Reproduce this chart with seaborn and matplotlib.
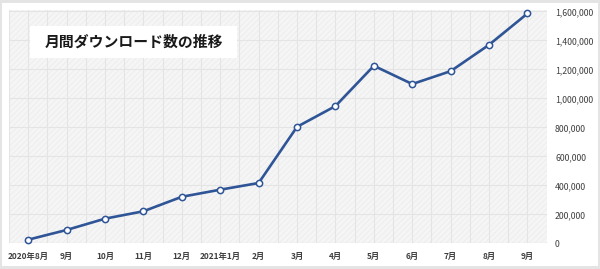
import matplotlib
matplotlib.use("Agg")
import matplotlib.pyplot as plt
import matplotlib.patches as patches
import matplotlib.ticker as mticker
import seaborn as sns
import numpy as np
import pandas as pd

months = ['2020年8月', '9月', '10月', '11月', '12月', '2021年1月', '2月', '3月',
          '4月', '5月', '6月', '7月', '8月', '9月']
downloads = [25000, 92000, 170000, 221000, 321000, 370000, 416000, 804000,
             947000, 1225000, 1099000, 1188000, 1370000, 1586000]
y_ticks = [0, 200000, 400000, 600000, 800000, 1000000, 1200000, 1400000, 1600000]
title = '月間ダウンロード数の推移'

sns.set_theme(style="white")
plt.rcParams['font.family'] = ['Noto Sans CJK JP', 'DejaVu Sans']
plt.rcParams['hatch.linewidth'] = 0.4
plt.rcParams['hatch.color'] = '#e8e8e8'

df = pd.DataFrame({'idx': np.arange(len(months)), 'month': months, 'downloads': downloads})

W, H = 600, 269
fig = plt.figure(figsize=(6, 2.69), dpi=100, facecolor='#e4e4e4')
# white card
fig.patches.append(patches.Rectangle((2 / W, 3 / H), (W - 4) / W, (H - 6) / H,
                                     transform=fig.transFigure, facecolor='white',
                                     edgecolor='none', zorder=-5))

ax = fig.add_axes([9 / W, (H - 243.3) / H, (546.7 - 9) / W, (243.3 - 10) / H])
ax.set_zorder(1)
ax.set_facecolor('#f5f5f5')
ax.add_patch(patches.Rectangle((0, 0), 1, 1, transform=ax.transAxes, facecolor='none',
                               edgecolor='#e9e9e9', hatch='//////', linewidth=0, zorder=0))

sns.lineplot(data=df, x='idx', y='downloads', ax=ax, color='#2f5597', linewidth=1.9,
             marker='o', markersize=4.5, markerfacecolor='white',
             markeredgecolor='#2f5597', markeredgewidth=1.1, zorder=5, clip_on=False)

ax.set_xlim(-0.5, len(months) - 0.5)
ax.set_ylim(0, 1610000)
ax.set_xticks(df['idx'])
ax.set_xticklabels(months)
ax.set_xticks(np.arange(-0.5, len(months), 1.0), minor=True)
ax.yaxis.tick_right()
ax.set_yticks(y_ticks)
ax.yaxis.set_major_formatter(mticker.FuncFormatter(lambda v, p: f'{int(v):,}'))
ax.grid(True, which='both', axis='x', color='#e4e4e4', linewidth=0.8, zorder=1)
ax.grid(True, which='major', axis='y', color='#e4e4e4', linewidth=0.8, zorder=1)
ax.set_axisbelow(True)
ax.tick_params(axis='x', which='both', length=0, pad=6, labelsize=6.0, colors='#404040')
ax.tick_params(axis='y', which='both', length=0, pad=6, labelsize=6.3, colors='#404040')
for lbl in ax.get_xticklabels():
    lbl.set_fontweight('bold')
ax.set_xlabel('')
ax.set_ylabel('')
for s in ax.spines.values():
    s.set_visible(False)
ax.axhline(0, color='#d9d9d9', linewidth=0.8, zorder=2)

# title box
fig.patches.append(patches.Rectangle((30 / W, (H - 58) / H), 207 / W, 32 / H,
                                     transform=fig.transFigure, facecolor='white',
                                     edgecolor='none', zorder=3))
fig.text(134 / W, (H - 42) / H, title, ha='center', va='center', fontsize=10.7,
         fontweight='bold', color='#1a1a1a', zorder=4)

fig.savefig('out.png', dpi=100, facecolor=fig.get_facecolor())
